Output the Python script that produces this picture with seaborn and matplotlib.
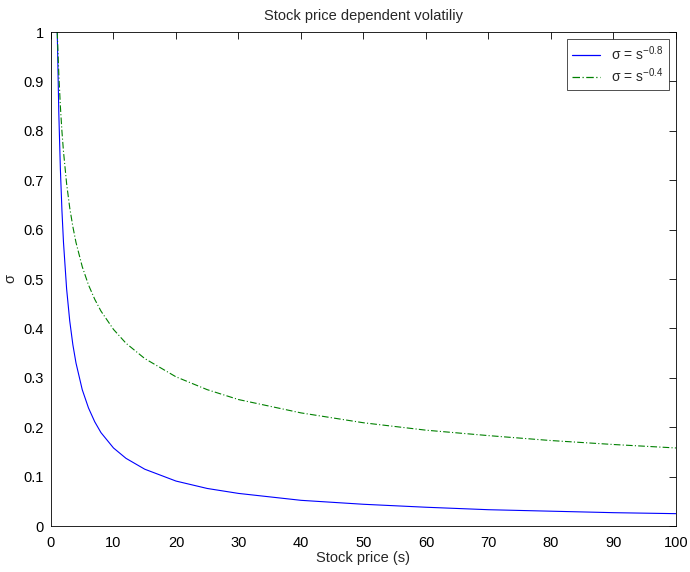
import matplotlib
matplotlib.use("Agg")
import matplotlib.pyplot as plt
import seaborn as sns
import pandas as pd

s_vals = [1, 1.25, 1.5, 1.75, 2, 2.5, 3, 3.5, 4, 5, 6, 7, 8, 10, 12, 15, 20, 25, 30,
          40, 50, 60, 70, 80, 90, 100]
sigma_08 = [1.0, 0.836, 0.723, 0.639, 0.574, 0.480, 0.415, 0.367, 0.330, 0.276, 0.239,
            0.211, 0.189, 0.158, 0.137, 0.115, 0.091, 0.076, 0.066, 0.052, 0.044, 0.038,
            0.033, 0.030, 0.027, 0.025]
sigma_04 = [1.0, 0.915, 0.850, 0.799, 0.758, 0.693, 0.644, 0.606, 0.574, 0.525, 0.488,
            0.459, 0.435, 0.398, 0.370, 0.339, 0.302, 0.276, 0.256, 0.229, 0.209, 0.194,
            0.183, 0.173, 0.165, 0.158]
labels = [r'$\sigma$ = s$^{-0.8}$', r'$\sigma$ = s$^{-0.4}$']
x_ticks = list(range(0, 101, 10))
y_ticks = [0, 0.1, 0.2, 0.3, 0.4, 0.5, 0.6, 0.7, 0.8, 0.9, 1]
y_ticklabels = ['0', '0.1', '0.2', '0.3', '0.4', '0.5', '0.6', '0.7', '0.8', '0.9', '1']

sns.set_style("white")
plt.rcParams['font.family'] = ['Liberation Sans', 'DejaVu Sans']
plt.rcParams['mathtext.fontset'] = 'custom'
plt.rcParams['mathtext.rm'] = 'Liberation Sans'
plt.rcParams['mathtext.it'] = 'Liberation Sans'

df = pd.DataFrame({
    's': s_vals * 2,
    'sigma': sigma_08 + sigma_04,
    'series': [labels[0]] * len(s_vals) + [labels[1]] * len(s_vals),
})

fig = plt.figure(figsize=(6.9, 5.72), dpi=100)
ax = fig.add_axes([0.0739, 0.0804, 0.9058, 0.8636])
sns.lineplot(data=df, x='s', y='sigma', hue='series', style='series',
             palette={labels[0]: '#0000ff', labels[1]: '#008000'},
             dashes={labels[0]: '', labels[1]: (6, 2, 1, 2)},
             linewidth=0.8, ax=ax, sort=False)

ax.set_xlim(0, 100)
ax.set_ylim(0, 1)
ax.set_xticks(x_ticks)
ax.set_yticks(y_ticks)
ax.set_yticklabels(y_ticklabels)
ax.tick_params(direction='in', top=True, right=True, length=5, width=0.6,
               labelsize=10.5, colors='black')
ax.tick_params(axis='x', pad=7)
ax.tick_params(axis='y', pad=5)
for sp in ax.spines.values():
    sp.set_visible(True)
    sp.set_color('black')
    sp.set_linewidth(0.6)
ax.set_xlabel('Stock price (s)', fontsize=10.5, labelpad=1)
ax.set_ylabel(r'$\sigma$', fontsize=10.5, labelpad=4)
ax.set_title('Stock price dependent volatiliy', fontsize=10.5, pad=9)

leg = ax.legend(loc='upper right', fontsize=10, frameon=True, fancybox=False,
                edgecolor='black', handlelength=2.0, borderaxespad=0.5,
                labelspacing=0.2, borderpad=0.4)
leg.get_frame().set_linewidth(0.6)
for h in leg.get_lines():
    h.set_linewidth(0.9)

fig.savefig('out.png', dpi=100)
